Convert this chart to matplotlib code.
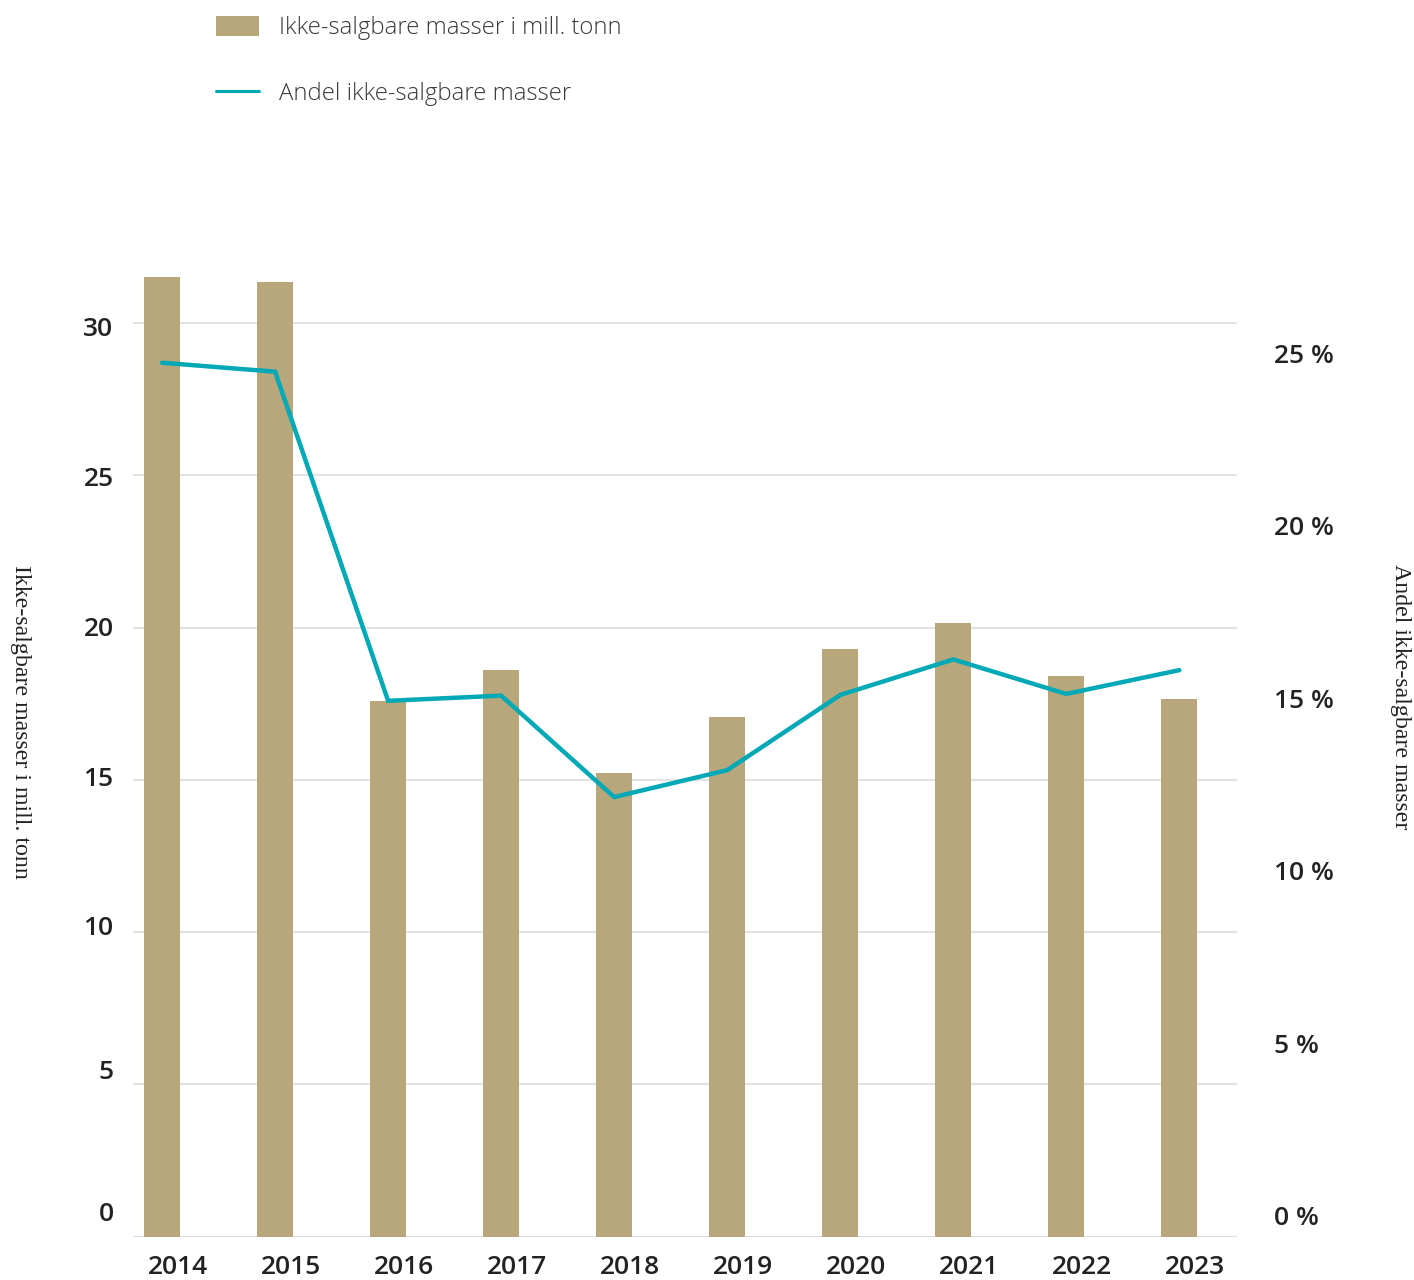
import matplotlib
matplotlib.use("Agg")
import matplotlib.pyplot as plt
import matplotlib.transforms as mtransforms
import numpy as np

# data
years = ["2014", "2015", "2016", "2017", "2018", "2019", "2020", "2021", "2022", "2023"]
masses = [31.50, 31.33, 17.58, 18.62, 15.21, 17.07, 19.28, 20.15, 18.40, 17.66]   # mill. tonn
share = [24.72, 24.46, 14.92, 15.07, 12.13, 12.91, 15.09, 16.12, 15.12, 15.81]    # percent
left_ticks = [0, 5, 10, 15, 20, 25, 30]
right_ticks = [0, 5, 10, 15, 20, 25]

bar_label = "Ikke-salgbare masser i mill. tonn"
line_label = "Andel ikke-salgbare masser"

BAR_COLOR = "#b8a77b"
LINE_COLOR = "#00a9b5"
GRID_COLOR = "#dedede"
TEXT_COLOR = "#222222"

plt.rcParams['font.family'] = ['Open Sans', 'DejaVu Sans']

fig = plt.figure(figsize=(14.14, 12.8), dpi=100)
ax1 = fig.add_axes([133 / 1414, 43.3 / 1280, 1104 / 1414, 974.7 / 1280])

x = np.arange(len(years))
bars = ax1.bar(x, masses, width=0.32, color=BAR_COLOR, label=bar_label, zorder=2)

ax1.set_xlim(-0.257, 9.51)
ax1.set_ylim(0, 32)
ax1.set_yticks(left_ticks)
ax1.set_yticklabels([str(t) for t in left_ticks])
ax1.yaxis.grid(True, color=GRID_COLOR, linewidth=1.2, zorder=0)
ax1.set_axisbelow(True)
for s in ax1.spines.values():
    s.set_visible(False)
ax1.tick_params(axis='both', length=0, labelsize=19, labelcolor=TEXT_COLOR)
ax1.tick_params(axis='y', pad=14)
ax1.tick_params(axis='x', pad=13)

# the original labels sit a little off their gridlines near the bottom
nudges = [25, 15, 7, 3, 1, -1, -4]
for lab, dy in zip(ax1.get_yticklabels(), nudges):
    lab.set_transform(lab.get_transform() + mtransforms.ScaledTranslation(0, dy / 100, fig.dpi_scale_trans))
    lab.set_fontweight('semibold')

ax1.set_xticks(x + 0.14)
ax1.set_xticklabels(years, fontweight='semibold')

# bottom baseline
ax1.axhline(0, color=GRID_COLOR, linewidth=1.5, zorder=1)

ax2 = ax1.twinx()
ax2.plot(x, share, color=LINE_COLOR, linewidth=3.2, label=line_label, zorder=3,
         solid_joinstyle='miter', solid_capstyle='round')
ax2.set_ylim(-0.614, 27.64)
ax2.set_yticks(right_ticks)
ax2.set_yticklabels([f"{t} %" for t in right_ticks], fontweight='semibold')
for s in ax2.spines.values():
    s.set_visible(False)
ax2.tick_params(axis='y', length=0, labelsize=19, labelcolor=TEXT_COLOR, pad=27)

fig.text(20 / 1414, 1 - 722 / 1280, bar_label, rotation=-90, ha='center', va='center',
         fontsize=17.2, family='Liberation Serif', color=TEXT_COLOR)
fig.text(1400 / 1414, 1 - 697 / 1280, line_label, rotation=-90, ha='center', va='center',
         fontsize=17.2, family='Liberation Serif', color=TEXT_COLOR)

handles = [bars, ax2.get_lines()[0]]
leg = fig.legend(handles, [bar_label, line_label], loc='upper left',
                 bbox_to_anchor=(216 / 1414, 1 - 16 / 1280), frameon=False,
                 fontsize=17.2, handlelength=1.8, handleheight=0.92, handletextpad=0.84,
                 labelspacing=1.72, borderpad=0, borderaxespad=0)
for t in leg.get_texts():
    t.set_color("#3a3a3a")
    t.set_fontweight('light')
leg.get_lines()[0].set_linewidth(2.2)

fig.savefig("out.png", dpi=100)
